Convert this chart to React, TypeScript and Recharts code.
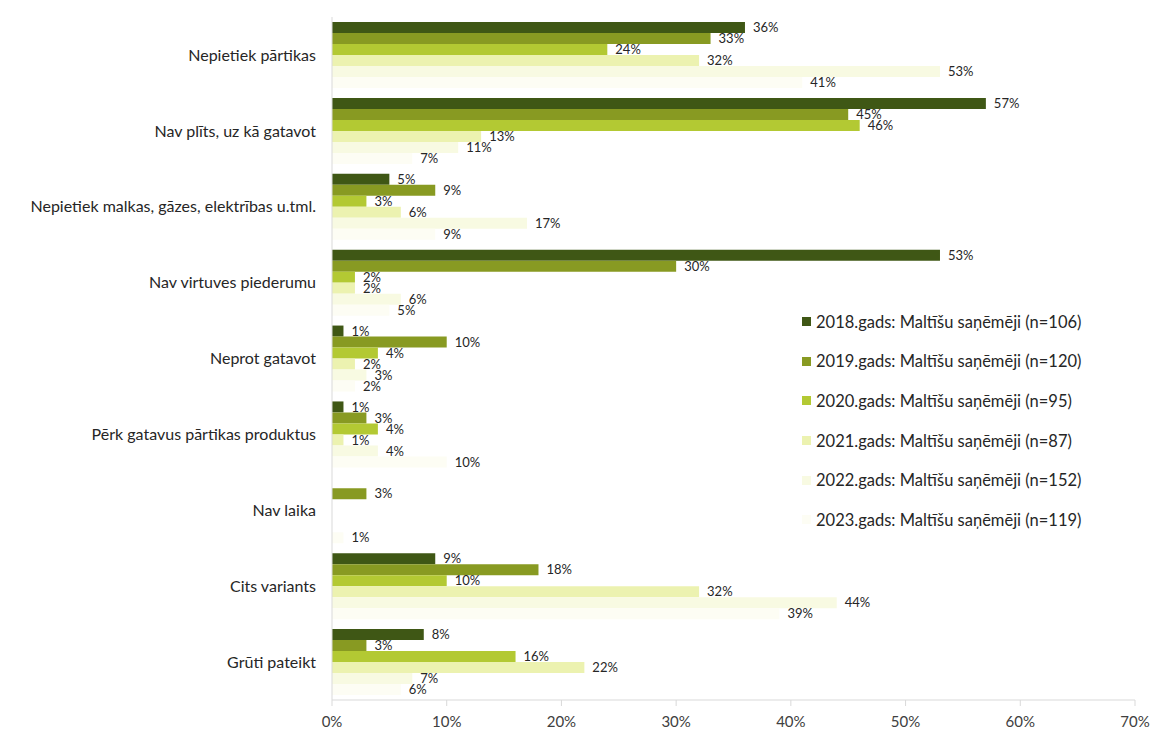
import React from 'react';
import { BarChart, Bar, XAxis, YAxis, LabelList } from 'recharts';

const categories = [
  'Nepietiek pārtikas',
  'Nav plīts, uz kā gatavot',
  'Nepietiek malkas, gāzes, elektrības u.tml.',
  'Nav virtuves piederumu',
  'Neprot gatavot',
  'Pērk gatavus pārtikas produktus',
  'Nav laika',
  'Cits variants',
  'Grūti pateikt',
];

const s2018 = [36, 57, 5, 53, 1, 1, null, 9, 8];
const s2019 = [33, 45, 9, 30, 10, 3, 3, 18, 3];
const s2020 = [24, 46, 3, 2, 4, 4, null, 10, 16];
const s2021 = [32, 13, 6, 2, 2, 1, null, 32, 22];
const s2022 = [53, 11, 17, 6, 3, 4, null, 44, 7];
const s2023 = [41, 7, 9, 5, 2, 10, 1, 39, 6];

const seriesNames = [
  '2018.gads: Maltīšu saņēmēji (n=106)',
  '2019.gads: Maltīšu saņēmēji (n=120)',
  '2020.gads: Maltīšu saņēmēji (n=95)',
  '2021.gads: Maltīšu saņēmēji (n=87)',
  '2022.gads: Maltīšu saņēmēji (n=152)',
  '2023.gads: Maltīšu saņēmēji (n=119)',
];
const seriesKeys = ['y2018', 'y2019', 'y2020', 'y2021', 'y2022', 'y2023'];
const seriesValues = [s2018, s2019, s2020, s2021, s2022, s2023];
const colors = ['#3f5715', '#889a22', '#b3c933', '#ecf2b0', '#f8fae2', '#fdfdf4'];

const xTicks = [0, 10, 20, 30, 40, 50, 60, 70];

const data = categories.map((c, i) => {
  const row: Record<string, any> = { name: c };
  seriesKeys.forEach((k, j) => {
    row[k] = seriesValues[j][i];
  });
  return row;
});

const FONT = 'Lato, "Open Sans", "Liberation Sans", sans-serif';

export default function App() {
  return (
    <div style={{ position: 'absolute', left: 0, top: 0, width: 1155, height: 732, background: '#fff' }}>
      <BarChart
        width={1155}
        height={732}
        data={data}
        layout="vertical"
        margin={{ top: 17, right: 20, left: 0, bottom: 8 }}
        barCategoryGap={5}
        barGap={0}
      >
        <XAxis
          type="number"
          domain={[0, 70]}
          ticks={xTicks}
          tickFormatter={(v: number) => `${v}%`}
          axisLine={{ stroke: '#d9d9d9' }}
          tickLine={{ stroke: '#d9d9d9' }}
          tick={{ fill: '#404040', fontSize: 15, fontFamily: FONT }}
          height={24}
          tickMargin={10}
        />
        <YAxis
          type="category"
          dataKey="name"
          width={332}
          axisLine={{ stroke: '#d9d9d9' }}
          tickLine={false}
          tick={{ fill: '#262626', fontSize: 16, fontFamily: FONT }}
          tickMargin={10}
        />
        {seriesKeys.map((k, i) => (
          <Bar key={k} dataKey={k} name={seriesNames[i]} fill={colors[i]} isAnimationActive={false}>
            <LabelList
              dataKey={k}
              position="right"
              offset={8}
              formatter={(v: any) => (v == null ? '' : `${v}%`)}
              style={{ fill: '#262626', fontSize: 13, fontFamily: FONT }}
            />
          </Bar>
        ))}
      </BarChart>
      <div
        style={{
          position: 'absolute',
          left: 802,
          top: 302,
          fontFamily: FONT,
          fontSize: 16.5,
          color: '#262626',
        }}
      >
        {seriesNames.map((n, i) => (
          <div key={n} style={{ display: 'flex', alignItems: 'center', height: 39.6, whiteSpace: 'nowrap' }}>
            <span
              style={{
                display: 'inline-block',
                width: 9,
                height: 9,
                background: colors[i],
                marginRight: 5,
              }}
            />
            <span>{n}</span>
          </div>
        ))}
      </div>
    </div>
  );
}
